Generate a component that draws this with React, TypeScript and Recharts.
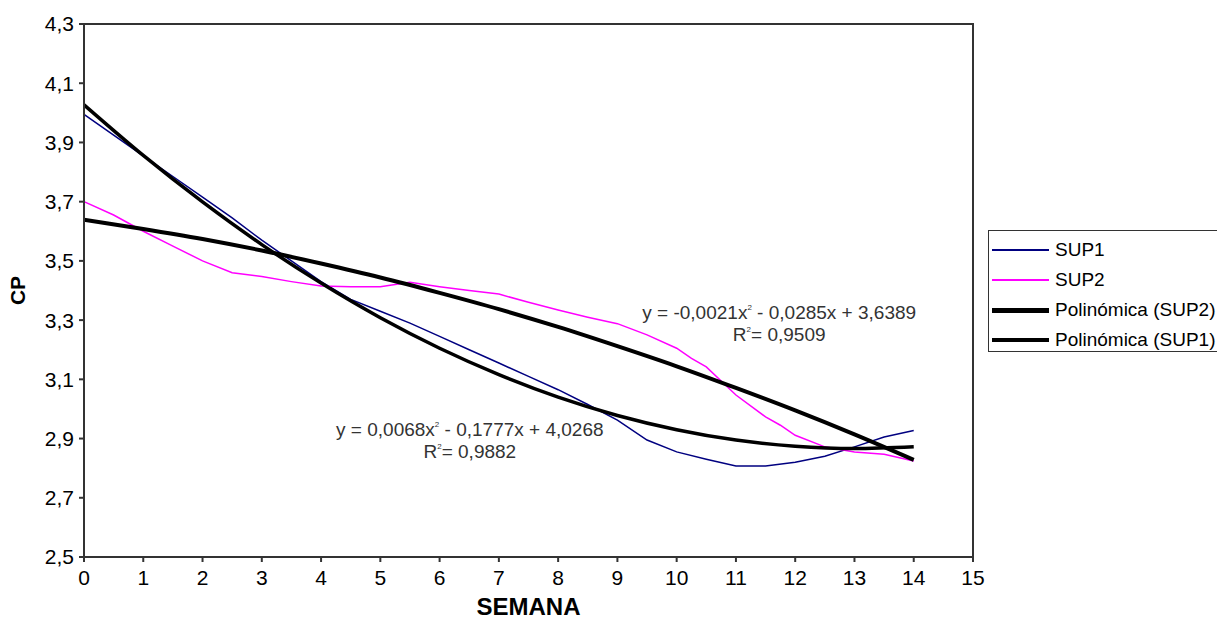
import { LineChart, Line, XAxis, YAxis, ReferenceArea, ReferenceDot } from 'recharts';

const FONT = '"Liberation Sans", Arial, sans-serif';

// SUP1 read every half week
const weeksSup1 = [0, 0.5, 1, 1.5, 2, 2.5, 3, 3.5, 4, 4.5, 5, 5.5, 6, 6.5, 7, 7.5, 8, 8.5, 9, 9.5, 10, 10.5, 11, 11.5, 12, 12.5, 13, 13.5, 14];
const sup1 = [3.995, 3.925, 3.855, 3.785, 3.715, 3.645, 3.57, 3.5, 3.43, 3.37, 3.33, 3.29, 3.245, 3.2, 3.155, 3.11, 3.065, 3.015, 2.962, 2.895, 2.855, 2.83, 2.807, 2.807, 2.82, 2.84, 2.872, 2.905, 2.927];

// SUP2 (a couple of extra kinks near week 10-12)
const weeksSup2 = [0, 0.5, 1, 1.5, 2, 2.5, 3, 3.5, 4, 4.5, 5, 5.5, 6, 6.5, 7, 7.5, 8, 8.5, 9, 9.5, 10, 10.25, 10.5, 11, 11.5, 11.75, 12, 12.5, 13, 13.5, 14];
const sup2 = [3.7, 3.655, 3.6, 3.55, 3.5, 3.46, 3.447, 3.43, 3.415, 3.413, 3.413, 3.428, 3.413, 3.4, 3.388, 3.36, 3.334, 3.31, 3.288, 3.25, 3.205, 3.171, 3.142, 3.047, 2.973, 2.945, 2.911, 2.872, 2.855, 2.847, 2.824];

// trend lines, read at each week
const weeksFit = [0, 1, 2, 3, 4, 5, 6, 7, 8, 9, 10, 11, 12, 13, 14];
const fitSup1 = [4.027, 3.856, 3.699, 3.555, 3.425, 3.308, 3.205, 3.116, 3.04, 2.978, 2.93, 2.895, 2.874, 2.866, 2.872];
const fitSup2 = [3.639, 3.608, 3.574, 3.535, 3.491, 3.444, 3.392, 3.337, 3.277, 3.212, 3.144, 3.071, 2.995, 2.914, 2.828];

const xTicks = [0, 1, 2, 3, 4, 5, 6, 7, 8, 9, 10, 11, 12, 13, 14, 15];
const yTicks = [2.5, 2.7, 2.9, 3.1, 3.3, 3.5, 3.7, 3.9, 4.1, 4.3];

const zip = (xs: number[], ys: number[]) => xs.map((x, i) => ({ x, y: ys[i] }));

const series = [
  { name: 'SUP1', data: zip(weeksSup1, sup1), color: '#000080', width: 1.5, legendWidth: 2, smooth: false },
  { name: 'SUP2', data: zip(weeksSup2, sup2), color: '#ff00ff', width: 1.5, legendWidth: 2, smooth: false },
  { name: 'Polinómica (SUP2)', data: zip(weeksFit, fitSup2), color: '#000000', width: 4, legendWidth: 5, smooth: true },
  { name: 'Polinómica (SUP1)', data: zip(weeksFit, fitSup1), color: '#000000', width: 3.5, legendWidth: 3.5, smooth: true },
];

const fmt = (v: number) => v.toFixed(1).replace('.', ',');

function Equation({ viewBox, a, b }: any) {
  const { x, y } = viewBox;
  return (
    <g fontFamily={FONT} fill="#333" fontSize={19} textAnchor="middle">
      <text x={x} y={y + 6}>{a}</text>
      <text x={x} y={y + 28}>{b}</text>
    </g>
  );
}

export default function App() {
  return (
    <div style={{ position: 'absolute', left: 0, top: 0, width: 1217, height: 619, background: '#fff', overflow: 'hidden' }}>
      <LineChart width={1217} height={619} margin={{ top: 24, right: 244, bottom: 0, left: 0 }}>
        <ReferenceArea x1={0} x2={15} y1={2.5} y2={4.3} fill="none" stroke="#333" strokeWidth={2} ifOverflow="visible" />
        <XAxis
          type="number"
          dataKey="x"
          domain={[0, 15]}
          ticks={xTicks}
          height={62}
          stroke="#333"
          strokeWidth={2}
          tickSize={5}
          tickMargin={8}
          tick={{ fill: '#000', fontSize: 21, fontFamily: FONT }}
          label={{ value: 'SEMANA', position: 'insideBottom', offset: 4, style: { fill: '#000', fontSize: 24, fontWeight: 'bold', fontFamily: FONT } }}
        />
        <YAxis
          type="number"
          domain={[2.5, 4.3]}
          ticks={yTicks}
          width={84}
          stroke="#333"
          strokeWidth={2}
          tickSize={5}
          tickMargin={5}
          tickFormatter={fmt}
          tick={{ fill: '#000', fontSize: 21, fontFamily: FONT }}
          label={{ value: 'CP', angle: -90, position: 'insideLeft', offset: 18, style: { textAnchor: 'middle', fill: '#000', fontSize: 21, fontWeight: 'bold', fontFamily: FONT } }}
        />
        {series.map((s) => (
          <Line
            key={s.name}
            data={s.data}
            dataKey="y"
            name={s.name}
            type={s.smooth ? 'monotone' : 'linear'}
            stroke={s.color}
            strokeWidth={s.width}
            dot={false}
            activeDot={false}
            isAnimationActive={false}
          />
        ))}
        <ReferenceDot
          x={11.73}
          y={3.324}
          r={0}
          ifOverflow="visible"
          label={(p: any) => (
            <Equation
              viewBox={p.viewBox}
              a={<><tspan>y = -0,0021x</tspan><tspan fontSize={8} dy={-9}>2</tspan><tspan dy={9}> - 0,0285x + 3,6389</tspan></>}
              b={<><tspan>R</tspan><tspan fontSize={8} dy={-9}>2</tspan><tspan dy={9}>= 0,9509</tspan></>}
            />
          )}
        />
        <ReferenceDot
          x={6.51}
          y={2.929}
          r={0}
          ifOverflow="visible"
          label={(p: any) => (
            <Equation
              viewBox={p.viewBox}
              a={<><tspan>y = 0,0068x</tspan><tspan fontSize={8} dy={-9}>2</tspan><tspan dy={9}> - 0,1777x + 4,0268</tspan></>}
              b={<><tspan>R</tspan><tspan fontSize={8} dy={-9}>2</tspan><tspan dy={9}>= 0,9882</tspan></>}
            />
          )}
        />
      </LineChart>
      <div
        style={{
          position: 'absolute',
          left: 988,
          top: 230,
          width: 250,
          height: 122,
          border: '1.5px solid #333',
          boxSizing: 'border-box',
          paddingTop: 4,
          fontFamily: FONT,
          fontSize: 19,
          color: '#000',
        }}
      >
        {series.map((s) => (
          <div key={s.name} style={{ display: 'flex', alignItems: 'center', height: 30, whiteSpace: 'nowrap' }}>
            <div style={{ width: 57, marginLeft: 3, height: s.legendWidth, background: s.color }} />
            <span style={{ marginLeft: 6 }}>{s.name}</span>
          </div>
        ))}
      </div>
    </div>
  );
}
